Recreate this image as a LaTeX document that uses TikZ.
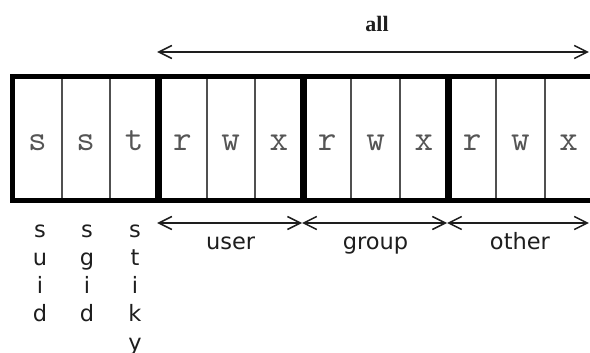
\documentclass[tikz,border=0pt]{standalone}
\usepackage{fontspec}
\setmainfont{Liberation Serif}
\newfontfamily\labfont{DejaVu Sans}
\usetikzlibrary{arrows.meta,calc}
\definecolor{cellgray}{HTML}{505050}
\definecolor{lettergray}{HTML}{555555}
\definecolor{inkblack}{HTML}{1E1E1E}
\newcommand\vstk[1]{\vtop{\baselineskip=28.3pt\lineskiplimit=-100pt\halign{\hfil##\hfil\cr#1}}}
\begin{document}
\begin{tikzpicture}[x=1pt,y=-1pt,
  cell/.style={draw=cellgray, line width=2pt, minimum width=48.3pt, minimum height=121pt,
    inner sep=0pt, text height=23pt, text depth=0pt,
    font=\ttfamily\fontsize{36}{36}\selectfont, text=lettergray},
  grp/.style={line width=5pt, draw=black},
  dim/.style={line width=1.5pt, draw=inkblack,
    {Straight Barb[length=13pt,width=13pt]}-{Straight Barb[length=13pt,width=13pt]}},
  lab/.style={font=\labfont\fontsize{22.5}{27}\selectfont, text=inkblack, inner sep=0pt, anchor=base},
  ttl/.style={font=\bfseries\fontsize{22}{26}\selectfont, text=inkblack, inner sep=0pt, anchor=base}]
\useasboundingbox (0,0) rectangle (590,353);
\fill[white] (0,0) rectangle (590,353);
% cells
\foreach \i/\t in {0/s,1/s,2/t,3/r,4/w,5/x,6/r,7/w,8/x,9/r,10/w,11/x}
  \node[cell] (c\i) at ({13.3+48.3*\i+24.15},138.5) {\t};
% thick group frames
\draw[grp] (c0.north west) rectangle (c2.south east);
\draw[grp] (c3.north west) rectangle (c5.south east);
\draw[grp] (c6.north west) rectangle (c8.south east);
\draw[grp] (c9.north west) rectangle (c11.south east);
% top "all" dimension
\coordinate (a0) at ($(c3.north west)+(0,-25)$);
\coordinate (a1) at ($(c11.north east)+(-5,-25)$);
\draw[dim] (a0) -- (a1);
\node[ttl] (all) at (377,32) {all};
% bottom dimensions
\coordinate (b3) at ($(c3.south west)+(0,23)$);
\coordinate (b6) at ($(c6.south west)+(0,23)$);
\coordinate (b9) at ($(c9.south west)+(0,23)$);
\coordinate (b12) at ($(c11.south east)+(-5,23)$);
\draw[dim] (b3) -- (b6);
\draw[dim] (b6) -- (b9);
\draw[dim] (b9) -- (b12);
\node[lab] (user) at ($(b3)!0.5!(b6)+(1,26)$) {user};
\node[lab] (group) at ($(b6)!0.5!(b9)+(1,26)$) {group};
\node[lab] (other) at ($(b9)!0.5!(b12)+(2,26)$) {other};
% vertical labels
\node[lab] (suid) at (40,237) {\vstk{s\cr u\cr i\cr d\cr}};
\node[lab] (sgid) at (87,237) {\vstk{s\cr g\cr i\cr d\cr}};
\node[lab] (sticky) at (135,237) {\vstk{s\cr t\cr i\cr k\cr y\cr}};
\end{tikzpicture}
\end{document}
